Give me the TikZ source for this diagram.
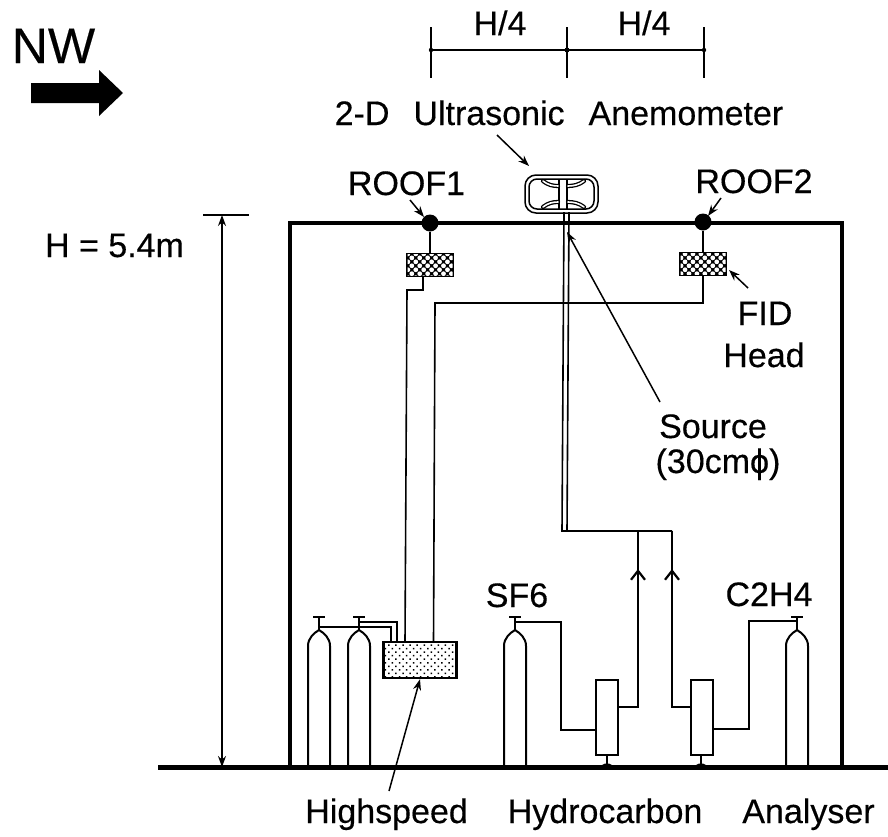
\documentclass[tikz,border=0pt]{standalone}
\usepackage{fontspec}
\setmainfont[FakeBold=0.35]{Liberation Sans}
\usetikzlibrary{arrows.meta,patterns.meta}
\tikzset{
  lbl/.style={font=\fontsize{34}{36}\selectfont,inner sep=0pt,anchor=base,text=black},
  pipe/.style={line width=1.6pt,black},
  wall/.style={line width=4.2pt,black,line cap=butt,line join=miter},
  leader/.style={line width=1.5pt,-{Stealth[length=11pt,width=8pt]}},
  dim/.style={line width=1.2pt},
  head/.style={draw,line width=2.4pt,minimum width=45pt,minimum height=21pt,inner sep=0pt,fill=black,
    postaction={pattern={Dots[distance=5.6pt,radius=2.4pt,angle=45]},pattern color=white}},
  analyser/.style={draw,line width=2.4pt,minimum width=73pt,minimum height=36pt,inner sep=0pt,
    pattern={Dots[distance=5pt,radius=1.05pt,angle=45]}},
  column/.style={draw,line width=2pt,minimum width=22pt,minimum height=75pt,inner sep=0pt,fill=white},
  gascyl/.pic={
    \draw[line width=2pt,line join=round] (-11,137) -- (-11,16) .. controls (-11,8) and (-5,3) .. (0,0) .. controls (5,3) and (11,8) .. (11,16) -- (11,137);
    \draw[line width=1.7pt] (0,0) -- (0,-12);
    \draw[line width=2.6pt] (-6,-13) -- (6,-13);
  },
  standp/.pic={
    \draw[line width=1.7pt] (0,0) -- (0,9);
    \fill (-7,11) -- (-2,8.5) -- (2,8.5) -- (7,11) -- cycle;
  },
  leaf/.style={line width=4.2pt,line cap=round,postaction={draw=white,line width=1.6pt}}
}
\begin{document}
\begin{tikzpicture}[x=1pt,y=-1pt]
\useasboundingbox (0,0) rectangle (888,836);
% named anchors
\coordinate (wallTL) at (290,223);
\coordinate (wallTR) at (842,223);
\coordinate (wallBL) at (290,767);
\coordinate (wallBR) at (842,767);
\coordinate (gndL) at (158,767.5);
\coordinate (gndR) at (888,767.5);
\node[fill=black,circle,minimum size=17pt,inner sep=0pt] (roofA) at (430,223) {};
\node[fill=black,circle,minimum size=17pt,inner sep=0pt] (roofB) at (703,222) {};
\node[head] (headA) at (430,265) {};
\node[head] (headB) at (703,264) {};
\node[analyser] (hc) at (420,660) {};
\node[column] (colA) at (607,717.5) {};
\node[column] (colB) at (702,717.5) {};
% building and ground
\draw[wall] (wallBL) -- (wallTL) -- (wallTR) -- (wallBR);
\draw[line width=4.2pt] (gndL) -- (gndR);
% sampling lines
\draw[pipe] (roofA) -- (headA);
\draw[pipe] (roofB) -- (headB);
\draw[pipe] (423,276) -- (423,290) -- (407,290) -- (405,642);
\draw[pipe] (703,275) -- (703,303) -- (435,303) -- (433.5,642);
% source double pipe
\draw[pipe] (564,212) -- (562,531) -- (672,531);
\draw[pipe] (569,212) -- (567,531);
\coordinate (topL) at (638,531);
\coordinate (topR) at (672,531);
\coordinate (midL) at (638,707);
\coordinate (midR) at (672,707);
\draw[pipe] (colA.east |- midL) -- (midL) -- (topL);
\draw[pipe] (colB.west |- midR) -- (midR) -- (topR);
\draw[line width=2.2pt,-{Straight Barb[length=9pt,width=14pt]}] (638,600) -- (638,569);
\draw[line width=2.2pt,-{Straight Barb[length=9pt,width=14pt]}] (672,600) -- (672,569);
% cylinders
\pic at (319,630) {gascyl};
\pic at (359,630) {gascyl};
\pic at (515,630) {gascyl};
\pic at (797,630) {gascyl};
\coordinate (cylA) at (319,627);
\coordinate (cylB) at (359,627);
\coordinate (cylC) at (515,622);
\coordinate (cylD) at (797,621);
\draw[pipe] (cylA) -- (cylB) -- (391,627) -- (391,642);
\draw[pipe] (360,622) -- (397,622) -- (397,642);
\draw[pipe] (cylC) -- (561,622) -- (561,730) -- (colA.west |- 0,730);
\draw[pipe] (cylD) -- (749,621) -- (749,729) -- (colB.east |- 0,729);
\pic at (607,755) {standp};
\pic at (701,755) {standp};
% anemometer
\draw[line width=1.5pt,rounded corners=11pt] (525,175) rectangle (598,213);
\draw[line width=1.5pt,rounded corners=8pt] (529,179) rectangle (594,209);
\draw[line width=1.5pt] (559,179) -- (559,209) (567,179) -- (567,209);
\draw[leaf] (543,181) .. controls (548,185) and (553,186) .. (558,186);
\draw[leaf] (584,181) .. controls (579,185) and (573,186) .. (568,186);
\draw[leaf] (543,207) .. controls (548,203) and (553,202) .. (558,202);
\draw[leaf] (584,207) .. controls (579,203) and (573,202) .. (568,202);
\coordinate (anem) at (529,166);
% dimension at top
\draw[dim] (431,27) -- (431,78) (567,27) -- (567,78) (704,27) -- (704,78);
\draw[dim] (431,50) -- (704,50);
\fill (431,50) circle (2.2pt) (567,50) circle (2.5pt) (704,50) circle (2.2pt);
\node[lbl] (hq1) at (500,35) {H/4};
\node[lbl] (hq2) at (644,35) {H/4};
% height dimension
\coordinate (dimT) at (222,215);
\coordinate (dimB) at (222,767);
\draw[dim] (203,215) -- (249,215);
\draw[line width=1.2pt,{Stealth[length=11pt,width=8pt]}-{Stealth[length=11pt,width=8pt]}] (dimT) -- (dimB);
\node[lbl] (hval) at (114.5,257) {H = 5.4m};
% NW arrow
\node[lbl,font=\fontsize{50}{52}\selectfont] (nw) at (53.5,63) {NW};
\fill (31,83) -- (99,83) -- (99,70) -- (123,93) -- (99,116) -- (99,103) -- (31,103) -- cycle;
% labels
\node[lbl] (anemtxt) at (559,125) {2-D\hspace{24pt}Ultrasonic\hspace{24pt}Anemometer};
\node[lbl] (roofAtxt) at (406.5,195) {ROOF1};
\node[lbl] (roofBtxt) at (754,193) {ROOF2};
\node[lbl] (fidtxt) at (765,325) {FID};
\node[lbl] (headtxt) at (764,367) {Head};
\node[lbl] (srctxt) at (713,438) {Source};
\node[lbl] (srcsize) at (718,473) {(30cmϕ)};
\node[lbl] (sf) at (517,607) {SF6};
\node[lbl] (ct) at (769,606) {C2H4};
\node[lbl] (hctxt) at (590,823) {Highspeed\hspace{40pt}Hydrocarbon\hspace{40pt}Analyser};
% leaders
\draw[leader] (497,135) -- (anem);
\draw[leader] (410,200) -- (424,217);
\draw[leader] (721,198) -- (708,216);
\draw[leader] (748,288) -- (729,270);
\draw[leader] (660,402) -- (567,232);
\draw[leader] (389,791) -- (hc.south -| 420,677);
\end{tikzpicture}
\end{document}
